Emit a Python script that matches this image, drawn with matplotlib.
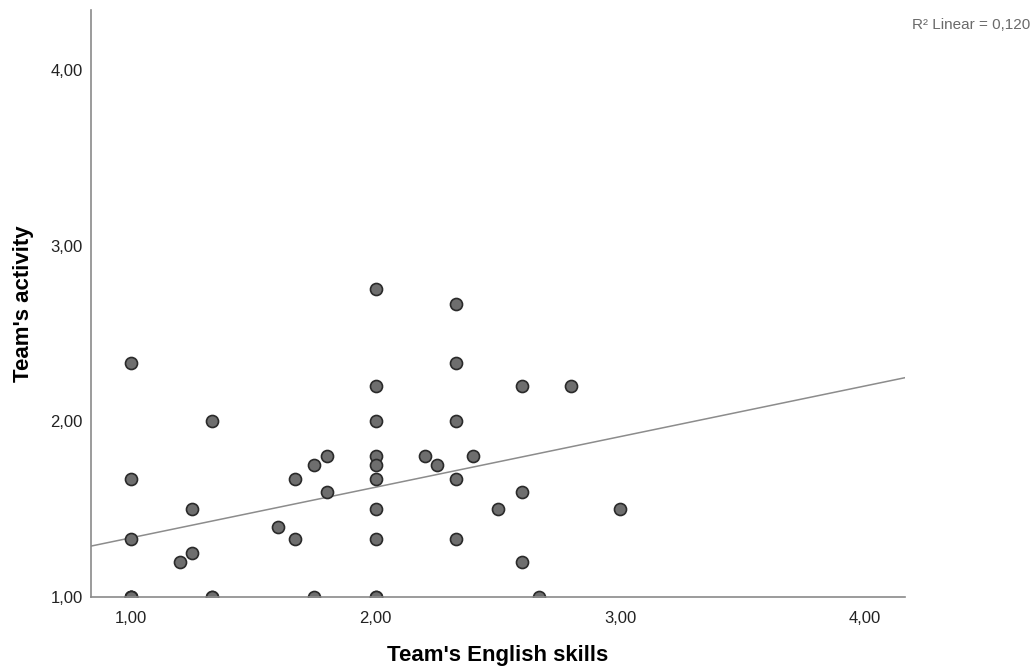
import numpy as np
import matplotlib
matplotlib.use("Agg")
import matplotlib.pyplot as plt
from matplotlib.ticker import FuncFormatter

plt.rcParams['font.family'] = ['Liberation Sans', 'DejaVu Sans']

# team english skills (x) vs team activity (y), some points overlap at 1,00
english = [1.00, 1.00, 1.00, 1.00, 1.00, 1.00, 1.00,
           1.33, 1.33, 1.33, 1.25, 1.25, 1.20,
           1.60, 1.67, 1.67, 1.75, 1.80, 1.80, 1.75,
           2.00, 2.00, 2.00, 2.00, 2.00, 2.00, 2.00, 2.00, 2.00, 2.00,
           2.20, 2.25,
           2.33, 2.33, 2.33, 2.33, 2.33,
           2.40, 2.50, 2.60, 2.60, 2.60, 2.67, 2.80, 3.00]
activity = [2.33, 1.67, 1.33, 1.00, 1.00, 1.00, 1.00,
            2.00, 1.00, 1.00, 1.50, 1.25, 1.20,
            1.40, 1.67, 1.33, 1.75, 1.80, 1.60, 1.00,
            2.75, 2.20, 2.00, 1.80, 1.75, 1.67, 1.50, 1.33, 1.00, 1.00,
            1.80, 1.75,
            2.67, 2.33, 2.00, 1.67, 1.33,
            1.80, 1.50, 2.20, 1.60, 1.20, 1.00, 2.20, 1.50]

x_ticks = [1, 2, 3, 4]
y_ticks = [1, 2, 3, 4]
r2_label = "R² Linear = 0,120"

fig = plt.figure(figsize=(10.34, 6.70), dpi=100)
ax = fig.add_axes([0.088, 0.109, 0.787, 0.876])

ax.scatter(english, activity, s=75, facecolor='#6e6e6e', edgecolor='#2a2a2a',
           linewidth=1.2, zorder=3)

# linear fit line
xlo, xhi = 0.836, 4.164
slope, icpt = np.polyfit(english, activity, 1)
xs = np.array([xlo, xhi])
ax.plot(xs, slope * xs + icpt, color='#8c8c8c', linewidth=1.1, zorder=2)

ax.set_xlim(xlo, xhi)
ax.set_ylim(1.0, 4.34)
ax.set_xticks(x_ticks)
ax.set_yticks(y_ticks)
fmt = FuncFormatter(lambda v, p: f"{v:.2f}".replace('.', ','))
ax.xaxis.set_major_formatter(fmt)
ax.yaxis.set_major_formatter(fmt)
ax.tick_params(length=0, labelsize=12, colors='#222222')
ax.tick_params(axis='x', pad=10)
ax.tick_params(axis='y', pad=6)

for side in ['top', 'right']:
    ax.spines[side].set_visible(False)
for side in ['left', 'bottom']:
    ax.spines[side].set_color('#8a8a8a')
    ax.spines[side].set_linewidth(1.2)
    ax.spines[side].set_zorder(4)

ax.set_xlabel("Team's English skills", fontsize=16, fontweight='bold', labelpad=14)
ax.set_ylabel("Team's activity", fontsize=16, fontweight='bold', labelpad=12)

fig.text(0.996, 0.963, r2_label, ha='right', va='center', fontsize=11, color='#6a6a6a')

fig.savefig("out.png", dpi=100, facecolor='white')
